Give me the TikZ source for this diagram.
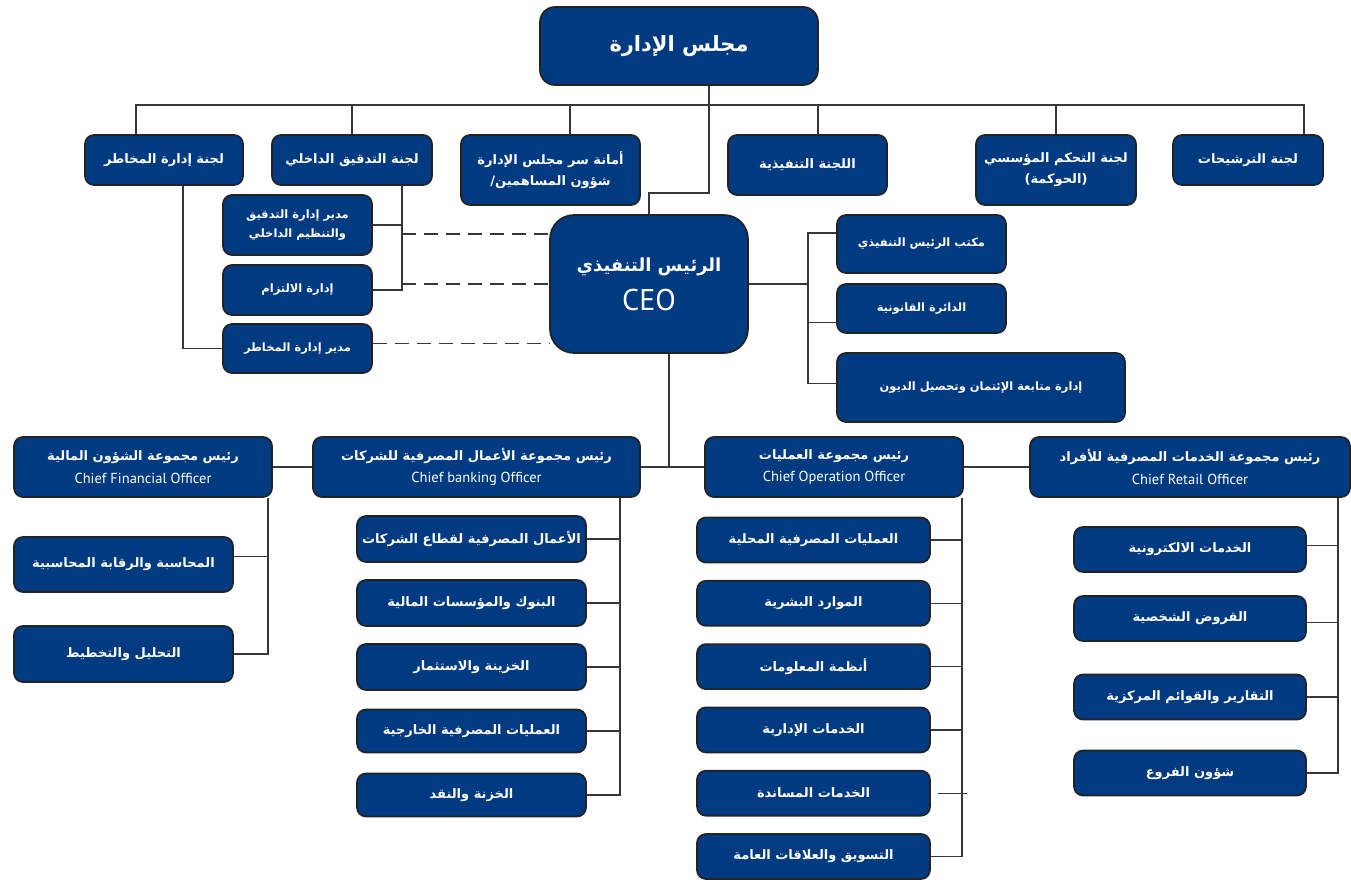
\documentclass[tikz,border=0pt]{standalone}
\usepackage{fontspec}
\setmainfont{PT Sans}
\newfontfamily\arabicfont[Script=Arabic]{DejaVu Sans}
\TeXXeTstate=1
\usetikzlibrary{positioning}

\definecolor{bankblue}{RGB}{0,58,128}
\definecolor{boxedge}{RGB}{35,35,35}
\definecolor{linegrey}{RGB}{55,55,55}
\newcommand{\artext}[1]{{\arabicfont\bfseries\beginR #1\endR}}
\newcommand{\fs}[1]{\fontsize{#1}{#1}\selectfont}

\begin{document}
\begin{tikzpicture}[x=1pt,y=-1pt,node distance=64pt,on grid,
  unit/.style={rectangle,rounded corners=9,draw=boxedge,line width=1.7,
    fill=bankblue,text=white,align=center,inner sep=1pt,font=\fs{13}},
  subunit/.style={unit,font=\fs{11.5}},
  head/.style={unit,minimum height=60},
  link/.style={draw=linegrey,line width=1.3},
  dashlink/.style={link,dash pattern=on 14pt off 8pt}]
\useasboundingbox (0,0) rectangle (1351,882);

% board and committees
\node[unit,rounded corners=15,minimum width=278,minimum height=78,font=\fs{21}] (board) at (679,46) {\artext{مجلس الإدارة}};
\node[unit,minimum width=158,minimum height=50] (c_risk) at (164,160) {\artext{لجنة إدارة المخاطر}};
\node[unit,minimum width=160,minimum height=50] (c_audit) at (352,160) {\artext{لجنة التدقيق الداخلي}};
\node[unit,minimum width=179,minimum height=70] (c_secr) at (550.5,170) {\artext{أمانة سر مجلس الإدارة}\\[7pt]{\arabicfont\bfseries /}\artext{شؤون المساهمين}};
\node[unit,minimum width=159,minimum height=60] (c_exec) at (807.5,165) {\artext{اللجنة التنفيذية}};
\node[unit,minimum width=160,minimum height=70] (c_gov) at (1056,170) {\artext{لجنة التحكم المؤسسي}\\[7pt]\artext{(الحوكمة)}};
\node[unit,minimum width=150,minimum height=50] (c_nom) at (1248,160) {\artext{لجنة الترشيحات}};

% ceo
\node[unit,rounded corners=24,minimum width=198,minimum height=138] (ceo) at (649,284)
  {\fs{18}\artext{الرئيس التنفيذي}\\[12pt]\fs{30}CEO};

% units reporting to committees
\node[subunit,minimum width=149,minimum height=60] (s_audit) at (297.5,225) {\artext{مدير إدارة التدقيق}\\[7pt]\artext{والتنظيم الداخلي}};
\node[subunit,minimum width=149,minimum height=50] (s_comp) at (297.5,290) {\artext{إدارة الالتزام}};
\node[subunit,minimum width=149,minimum height=49] (s_risk) at (297.5,348.5) {\artext{مدير إدارة المخاطر}};

% ceo staff units
\node[subunit,minimum width=169,minimum height=58] (r_office) at (921.5,244) {\artext{مكتب الرئيس التنفيذي}};
\node[subunit,minimum width=169,minimum height=49] (r_legal) at (921.5,308.5) {\artext{الدائرة القانونية}};
\node[subunit,minimum width=288,minimum height=69] (r_credit) at (981,387.5) {\artext{إدارة متابعة الإئتمان وتحصيل الديون}};

% group heads
\node[head,minimum width=258] (cfo) at (143,467) {\artext{رئيس مجموعة الشؤون المالية}\\[8pt]{\fs{14.5}Chief Financial Officer}};
\node[head,minimum width=327] (cbo) at (476.5,467) {\artext{رئيس مجموعة الأعمال المصرفية للشركات}\\[8pt]{\fs{14.5}Chief banking Officer}};
\node[head,minimum width=258] (coo) at (834,467) {\artext{رئيس مجموعة العمليات}\\[8pt]{\fs{14.5}Chief Operation Officer}};
\node[head,minimum width=320] (cro) at (1190,467) {\artext{رئيس مجموعة الخدمات المصرفية للأفراد}\\[8pt]{\fs{14.5}Chief Retail Officer}};

% finance
\node[unit,minimum width=219,minimum height=55] (f_acc) at (123.5,564.5) {\artext{المحاسبة والرقابة المحاسبية}};
\node[unit,minimum width=219,minimum height=56] (f_plan) at (123.5,654) {\artext{التحليل والتخطيط}};

% corporate banking
\node[unit,minimum width=229,minimum height=46] (b_1) at (471.5,539) {\artext{الأعمال المصرفية لقطاع الشركات}};
\node[unit,minimum width=229,minimum height=46] (b_2) [below=of b_1] {\artext{البنوك والمؤسسات المالية}};
\node[unit,minimum width=229,minimum height=46] (b_3) [below=of b_2] {\artext{الخزينة والاستثمار}};
\node[unit,minimum width=229,minimum height=43] (b_4) [below=of b_3] {\artext{العمليات المصرفية الخارجية}};
\node[unit,minimum width=229,minimum height=43] (b_5) [below=of b_4] {\artext{الخزنة والنقد}};

% operations
\node[unit,minimum width=233,minimum height=45] (o_1) at (813.5,540) {\artext{العمليات المصرفية المحلية}};
\node[unit,minimum width=233,minimum height=45] (o_2) [below=63.3pt of o_1] {\artext{الموارد البشرية}};
\node[unit,minimum width=233,minimum height=45] (o_3) [below=63.3pt of o_2] {\artext{أنظمة المعلومات}};
\node[unit,minimum width=233,minimum height=45] (o_4) [below=63.3pt of o_3] {\artext{الخدمات الإدارية}};
\node[unit,minimum width=233,minimum height=45] (o_5) [below=63.3pt of o_4] {\artext{الخدمات المساندة}};
\node[unit,minimum width=233,minimum height=45] (o_6) [below=63.3pt of o_5] {\artext{التسويق والعلاقات العامة}};

% retail
\node[unit,minimum width=232,minimum height=45] (e_1) at (1190,549.5) {\artext{الخدمات الالكترونية}};
\node[unit,minimum width=232,minimum height=45] (e_2) [below=69pt of e_1] {\artext{القروض الشخصية}};
\node[unit,minimum width=232,minimum height=45] (e_3) [below=78.5pt of e_2] {\artext{التقارير والقوائم المركزية}};
\node[unit,minimum width=232,minimum height=45] (e_4) [below=76pt of e_3] {\artext{شؤون الفروع}};

% board lines
\coordinate (bus) at (709,105);
\coordinate (kink) at (709,193);
\draw[link] ([xshift=-28]c_risk.north) |- (bus) -| ([xshift=56]c_nom.north);
\draw[link] (c_audit.north) -- (c_audit.north |- bus);
\draw[link] ([xshift=19.5]c_secr.north) -- ([xshift=19.5]c_secr.north |- bus);
\draw[link] ([xshift=10.5]c_exec.north) -- ([xshift=10.5]c_exec.north |- bus);
\draw[link] (c_gov.north) -- (c_gov.north |- bus);
\draw[link] (board.south -| bus) -- (kink) -| (ceo.north);

% committees to their units, dashed to ceo
\coordinate (abar) at (402,225);
\coordinate (d_1) at (402,234);
\draw[link] ([xshift=50]c_audit.south) |- (s_comp.east);
\draw[link] (s_audit.east) -- (abar);
\draw[link] ([xshift=19]c_risk.south) |- (s_risk.west);
\draw[dashlink] (d_1) -- (d_1 -| ceo.west);
\draw[dashlink] (ceo.west -| abar) -- (ceo.west);
\draw[dashlink] ([yshift=5]s_risk.east) -- ([yshift=5]s_risk.east -| ceo.west);

% ceo staff
\coordinate (rbar) at (808,284);
\draw[link] (ceo.east) -- (rbar);
\draw[link] ([yshift=11]r_office.west) -| (rbar) |- ([yshift=4]r_credit.west);
\draw[link] ([yshift=-14]r_legal.west) -- ([yshift=-14]r_legal.west -| rbar);

% ceo to group heads
\draw[link] ([xshift=20]ceo.south) -- ([xshift=20]ceo.south |- cbo.east);
\draw[link] (cfo.east) -- (cbo.west);
\draw[link] (cbo.east) -- (coo.west);
\draw[link] (coo.east) -- (cro.west);

% group heads to units
\draw[link] ([xshift=125]cfo.south) |- (f_plan.east);
\draw[link] ([yshift=8]f_acc.east) -- ++(35,0);

\draw[link] ([xshift=143.5]cbo.south) |- (b_5.east);
\draw[link] (b_1.east) -- ++(33.5,0);
\draw[link] (b_2.east) -- ++(33.5,0);
\draw[link] (b_3.east) -- ++(33.5,0);
\draw[link] (b_4.east) -- ++(33.5,0);

\draw[link] ([xshift=128]coo.south) |- (o_6.east);
\draw[link] (o_1.east) -- ++(32,0);
\draw[link] (o_2.east) -- ++(32,0);
\draw[link] (o_3.east) -- ++(32,0);
\draw[link] (o_4.east) -- ++(32,0);
\draw[link] ([xshift=7]o_5.east) -- ++(29,0);

\draw[link] ([xshift=148]cro.south) |- (e_4.east);
\draw[link] ([yshift=4]e_1.east) -- ++(32,0);
\draw[link] ([yshift=-4]e_2.east) -- ++(32,0);
\draw[link] (e_3.east) -- ++(32,0);
\end{tikzpicture}
\end{document}
